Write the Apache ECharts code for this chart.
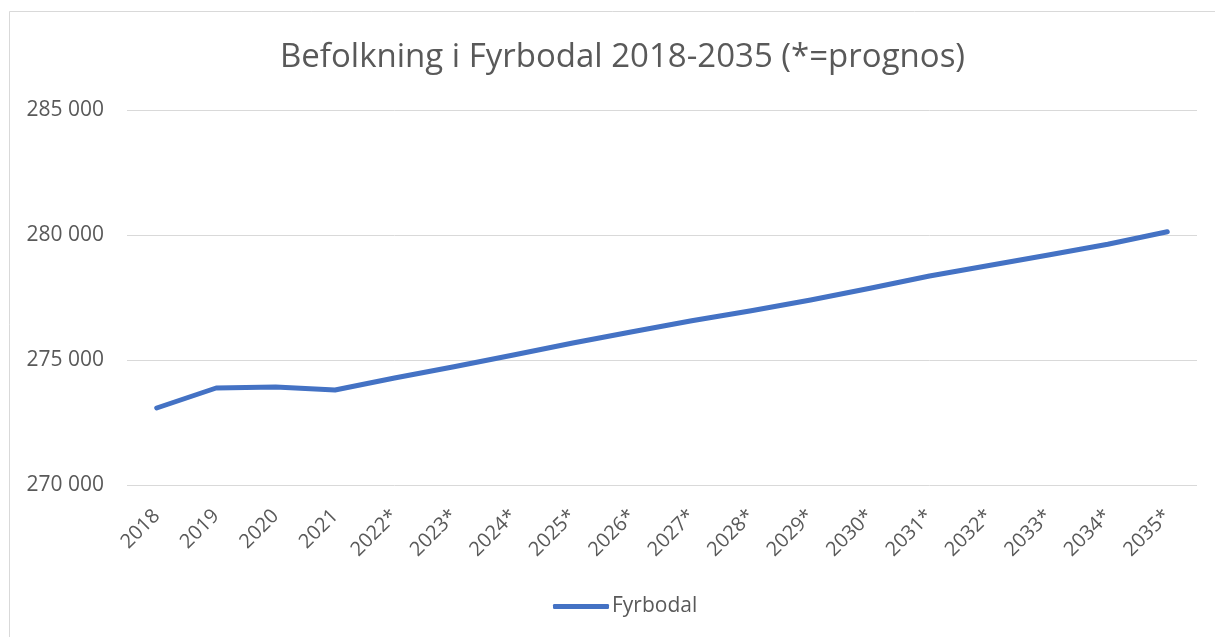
<!DOCTYPE html>
<html>
<head>
<meta charset="utf-8">
<script src="https://cdn.jsdelivr.net/npm/echarts@6/dist/echarts.min.js"></script>
<style>
  html, body { margin: 0; padding: 0; background: #ffffff; }
  #chart { width: 1215px; height: 637px; }
</style>
</head>
<body>
<div id="chart"></div>
<script>
// Population Fyrbodal, actual 2018-2021 and forecast 2022*-2035*
const years = ['2018', '2019', '2020', '2021', '2022*', '2023*', '2024*', '2025*', '2026*',
  '2027*', '2028*', '2029*', '2030*', '2031*', '2032*', '2033*', '2034*', '2035*']
const population = [273080, 273880, 273920, 273800, 274280, 274730, 275200, 275680, 276130,
  276570, 276970, 277400, 277870, 278360, 278780, 279200, 279630, 280130]
const yMin = 270000
const yMax = 285000
const yStep = 5000

const textColor = '#595959'
const gridColor = '#d9d9d9'
const lineColor = '#4472C4'
const font = '"Open Sans", "Liberation Sans", sans-serif'

const chart = echarts.init(document.getElementById('chart'))

const option = {
  backgroundColor: '#ffffff',
  animation: false,
  title: {
    text: 'Befolkning i Fyrbodal 2018-2035 (*=prognos)',
    left: 275,
    top: 36,
    textStyle: {
      color: textColor,
      fontFamily: font,
      fontSize: 33,
      fontWeight: 'normal'
    }
  },
  graphic: [
    {
      type: 'rect',
      shape: { x: 9.5, y: 11.5, width: 1400, height: 800 },
      style: { fill: 'none', stroke: gridColor, lineWidth: 1 },
      silent: true
    }
  ],
  legend: {
    top: 591,
    left: 548,
    icon: 'roundRect',
    itemWidth: 56,
    itemHeight: 5,
    itemGap: 4,
    data: ['Fyrbodal'],
    textStyle: {
      color: textColor,
      fontFamily: font,
      fontSize: 21,
      padding: [0, 0, 0, -2]
    }
  },
  grid: {
    left: 127,
    right: 18,
    top: 110,
    bottom: 152,
    containLabel: false
  },
  xAxis: {
    type: 'category',
    data: years,
    boundaryGap: true,
    axisLine: { show: false },
    axisTick: { show: false },
    axisLabel: {
      color: textColor,
      fontFamily: font,
      fontSize: 20,
      rotate: 45,
      margin: 28,
      interval: 0
    }
  },
  yAxis: {
    type: 'value',
    min: yMin,
    max: yMax,
    interval: yStep,
    axisLine: { show: false },
    axisTick: { show: false },
    splitLine: { lineStyle: { color: gridColor, width: 1 } },
    axisLabel: {
      color: textColor,
      fontFamily: font,
      fontSize: 21,
      margin: 23,
      formatter: v => String(v).replace(/\B(?=(\d{3})+(?!\d))/g, ' ')
    }
  },
  series: [
    {
      name: 'Fyrbodal',
      type: 'line',
      data: population,
      symbol: 'none',
      lineStyle: {
        color: lineColor,
        width: 5,
        cap: 'round',
        join: 'round'
      },
      itemStyle: { color: lineColor }
    }
  ]
}

chart.setOption(option)
</script>
</body>
</html>
